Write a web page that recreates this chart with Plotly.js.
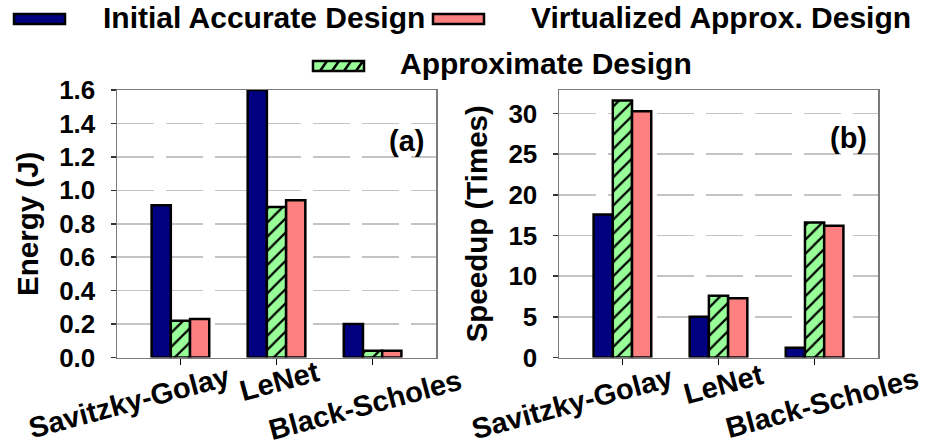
<!DOCTYPE html>
<html>
<head>
<meta charset="utf-8">
<script src="https://cdn.plot.ly/plotly-3.0.1.min.js"></script>
<style>html,body{margin:0;padding:0;background:#fff;}#chart{width:927px;height:448px;}</style>
</head>
<body>
<div id="chart"></div>
<script>
// ---- data ----
const categories = ['Savitzky-Golay', 'LeNet', 'Black-Scholes'];
const seriesNames = ['Initial Accurate Design', 'Approximate Design', 'Virtualized Approx. Design'];
const energyInitial = [0.91, 1.60, 0.20];
const energyApprox = [0.22, 0.90, 0.04];
const energyVirtual = [0.23, 0.94, 0.04];
const speedupInitial = [17.6, 5.0, 1.2];
const speedupApprox = [31.6, 7.6, 16.6];
const speedupVirtual = [30.3, 7.3, 16.2];
const energyTicks = [0.0, 0.2, 0.4, 0.6, 0.8, 1.0, 1.2, 1.4, 1.6];
const speedupTicks = [0, 5, 10, 15, 20, 25, 30];
const yTitles = ['Energy (J)', 'Speedup (Times)'];
const panelLabels = ['(a)', '(b)'];

// ---- styles ----
const W = 927, H = 448;
const FONT = '"Liberation Sans", Arial, sans-serif';
const colors = ['#000080', '#99ff99', '#ff8080'];
const px = x => x / W;
const py = y => 1 - y / H;

function barTrace(i, y, xa, ya) {
  const t = {
    type: 'bar', x: categories, y: y, name: seriesNames[i], xaxis: xa, yaxis: ya,
    showlegend: false,
    marker: {color: colors[i], line: {color: '#000', width: 2.5}},
    hoverinfo: 'x+y'
  };
  if (i === 1) t.marker.pattern = {shape: '/', fgcolor: '#000', bgcolor: colors[1], size: 10, solidity: 0.22};
  return t;
}

const data = [
  barTrace(0, energyInitial, 'x', 'y'),
  barTrace(1, energyApprox, 'x', 'y'),
  barTrace(2, energyVirtual, 'x', 'y'),
  barTrace(0, speedupInitial, 'x2', 'y2'),
  barTrace(1, speedupApprox, 'x2', 'y2'),
  barTrace(2, speedupVirtual, 'x2', 'y2')
];

const yDomain = [py(357.5), py(90)];
const xaxisBase = {
  type: 'category', range: [-0.66, 2.66], showticklabels: false,
  ticks: 'outside', ticklen: 6, tickcolor: '#000', tickwidth: 1.5,
  showline: true, linecolor: '#7a7a7a', linewidth: 1.5, mirror: true,
  showgrid: false, zeroline: false, fixedrange: true
};
const yaxisBase = {
  ticks: 'outside', ticklen: 5, tickcolor: '#333', tickwidth: 1.5,
  showline: true, linecolor: '#7a7a7a', linewidth: 1.5, mirror: true,
  showgrid: true, gridcolor: '#c4c4c4', gridwidth: 1.5, griddash: '37px,12px',
  zeroline: false, ticklabelstandoff: 10,
  tickfont: {family: FONT, size: 26, color: '#000', weight: 'bold'},
  domain: yDomain, fixedrange: true
};

const layout = {
  width: W, height: H,
  margin: {l: 0, r: 0, t: 0, b: 0},
  paper_bgcolor: '#fff', plot_bgcolor: '#fff',
  font: {family: FONT, color: '#000'},
  barmode: 'group', bargap: 0.4, bargroupgap: 0,
  showlegend: false,
  xaxis: Object.assign({}, xaxisBase, {domain: [px(117), px(436)], anchor: 'y'}),
  xaxis2: Object.assign({}, xaxisBase, {domain: [px(559), px(878)], anchor: 'y2'}),
  yaxis: Object.assign({}, yaxisBase, {
    anchor: 'x', range: [0, 1.6], tickvals: energyTicks, tickformat: '.1f',
    title: {text: yTitles[0], font: {family: FONT, size: 29.5, weight: 'bold'}, standoff: 12}
  }),
  yaxis2: Object.assign({}, yaxisBase, {
    anchor: 'x2', range: [0, 32.9], tickvals: speedupTicks,
    title: {text: yTitles[1], font: {family: FONT, size: 29.5, weight: 'bold'}, standoff: 12}
  }),
  annotations: [],
  shapes: []
};

// category labels (rotated) under each panel
const labelY = [[402, 381, 405], [403, 384, 403]];
const labelShift = [[-51, 3, -8], [-50, 5, 7]];
['x', 'x2'].forEach((xr, p) => {
  categories.forEach((c, i) => {
    layout.annotations.push({
      xref: xr, yref: 'paper', x: c, y: py(labelY[p][i]), xshift: labelShift[p][i],
      text: c, textangle: -15, showarrow: false, xanchor: 'center', yanchor: 'middle',
      font: {family: FONT, size: 29, color: '#000', weight: 'bold'}
    });
  });
});

// panel labels
const panelPos = [[406, 141], [848.5, 138]];
panelLabels.forEach((t, p) => {
  layout.annotations.push({
    xref: 'paper', yref: 'paper', x: px(panelPos[p][0]), y: py(panelPos[p][1]),
    text: t, showarrow: false, xanchor: 'center', yanchor: 'middle',
    font: {family: FONT, size: 29, color: '#000', weight: 'bold'}
  });
});

// custom legend (order as in reference: Initial, Virtualized / Approximate)
const legendItems = [
  {s: 0, sx: 14, sy: 19, tx: 101, ty: 18},
  {s: 2, sx: 433, sy: 19, tx: 529, ty: 18},
  {s: 1, sx: 313, sy: 66, tx: 398, ty: 64}
];
legendItems.forEach(it => {
  const x0 = it.sx, x1 = it.sx + 51, y0 = it.sy - 5, y1 = it.sy + 5;
  layout.shapes.push({
    type: 'rect', xref: 'paper', yref: 'paper', x0: px(x0), x1: px(x1), y0: py(y1), y1: py(y0),
    fillcolor: colors[it.s], line: {color: '#000', width: 2.5}, layer: 'above'
  });
  if (it.s === 1) {
    let path = '';
    for (let k = 0; k < 4; k++) {
      const a = x0 + 7 + 12 * k;
      path += 'M' + px(a) + ',' + py(y1) + ' L' + px(a + 7) + ',' + py(y0) + ' ';
    }
    layout.shapes.push({type: 'path', xref: 'paper', yref: 'paper', path: path,
      line: {color: '#000', width: 2.5}, layer: 'above'});
  }
  layout.annotations.push({
    xref: 'paper', yref: 'paper', x: px(it.tx), y: py(it.ty),
    text: seriesNames[it.s], showarrow: false, xanchor: 'left', yanchor: 'middle',
    font: {family: FONT, size: 30, color: '#000', weight: 'bold'}
  });
});

Plotly.newPlot('chart', data, layout, {displayModeBar: false, staticPlot: true});
</script>
</body>
</html>
